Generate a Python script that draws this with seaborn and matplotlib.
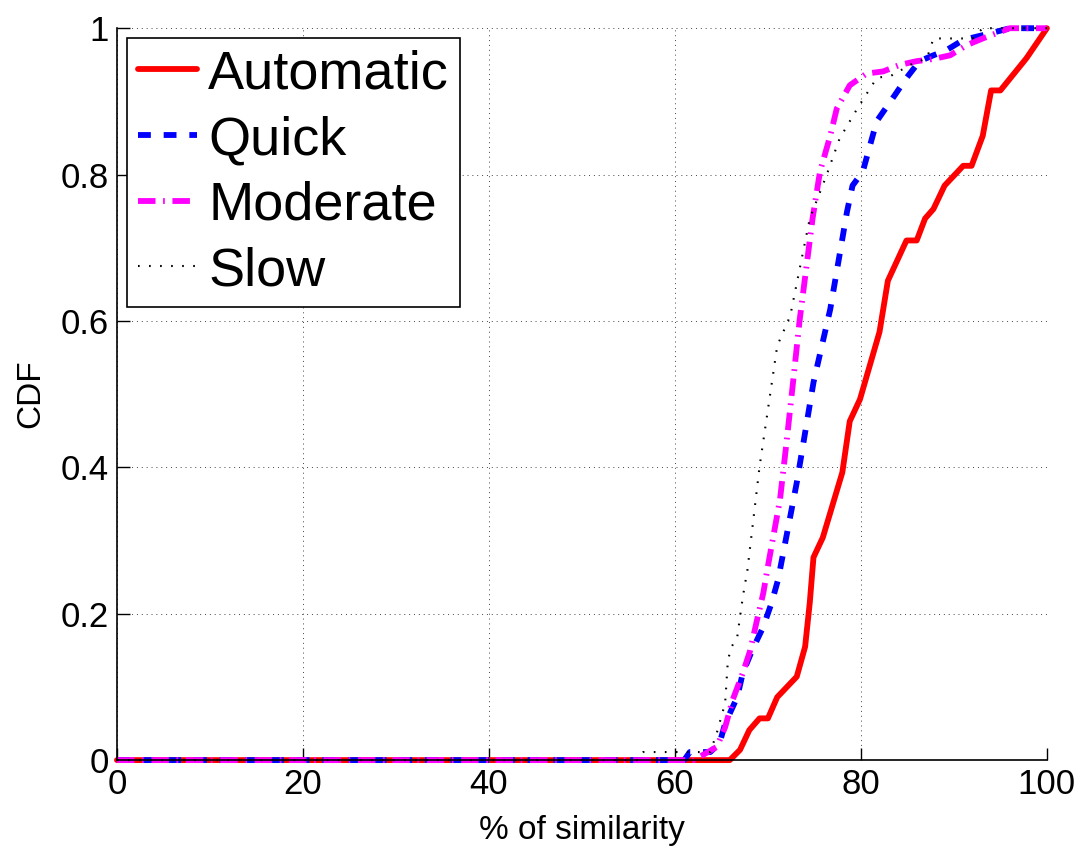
import matplotlib
matplotlib.use('Agg')
import matplotlib.pyplot as plt
import seaborn as sns

# CDF points (x = % of similarity, y = CDF)
auto_x = [0, 65.9, 67, 68, 69.1, 70, 71, 73.1, 74, 74.5, 74.9, 75.9, 78, 78.8, 79.9,
          82, 82.9, 84.9, 86, 86.9, 87.8, 89, 91, 91.9, 93.1, 94, 95, 97.8, 100]
auto_y = [0, 0, 0.014, 0.041, 0.057, 0.057, 0.086, 0.114, 0.155, 0.215, 0.277, 0.304,
          0.393, 0.463, 0.493, 0.585, 0.655, 0.71, 0.71, 0.74, 0.753, 0.785, 0.812,
          0.812, 0.853, 0.915, 0.915, 0.959, 1.0]

quick_x = [0, 61, 61.6, 63.8, 64.8, 65.4, 66.7, 67.3, 68.3, 69.5, 70.4, 71.1, 73.1,
           74.9, 76.7, 78.5, 79.1, 80.2, 81.7, 83.4, 84.9, 86.3, 87.8, 89.2, 91, 93.9,
           96, 100]
quick_y = [0, 0, 0.011, 0.011, 0.023, 0.05, 0.086, 0.119, 0.15, 0.182, 0.215, 0.247,
           0.379, 0.516, 0.616, 0.749, 0.785, 0.804, 0.873, 0.904, 0.932, 0.955, 0.963,
           0.97, 0.984, 0.993, 1.0, 1.0]

moderate_x = [0, 62, 63, 64.5, 65.4, 66.2, 67.3, 68.1, 68.8, 69.5, 70, 71.3, 72, 72.7,
              73.4, 74.8, 75.6, 76.7, 77.4, 78.8, 80.6, 82.4, 84.2, 86, 87.8, 89.6,
              91.4, 93.1, 96, 100]
moderate_y = [0, 0, 0.007, 0.018, 0.045, 0.082, 0.119, 0.15, 0.19, 0.228, 0.265, 0.356,
              0.434, 0.516, 0.6, 0.74, 0.804, 0.853, 0.89, 0.922, 0.938, 0.941, 0.95,
              0.955, 0.958, 0.963, 0.977, 0.986, 1.0, 1.0]

slow_x = [0, 56, 56.6, 63.8, 64.5, 65.4, 65.7, 66.1, 66.7, 67.3, 67.8, 69.1, 70, 71,
          72.4, 74.5, 76.3, 77.7, 79.6, 81.7, 83.4, 85.3, 87.1, 87.8, 92, 93.1, 100]
slow_y = [0, 0, 0.011, 0.011, 0.037, 0.078, 0.137, 0.155, 0.168, 0.223, 0.26, 0.401,
          0.479, 0.566, 0.607, 0.74, 0.799, 0.849, 0.89, 0.932, 0.936, 0.95, 0.959,
          0.986, 0.986, 1.0, 1.0]

x_ticks = [0, 20, 40, 60, 80, 100]
y_ticks = [0, 0.2, 0.4, 0.6, 0.8, 1]
y_tick_labels = ['0', '0.2', '0.4', '0.6', '0.8', '1']

sns.set_style('white')
plt.rcParams['font.family'] = ['Liberation Sans', 'DejaVu Sans']
plt.rcParams.update({'text.color': 'black', 'axes.labelcolor': 'black',
                     'xtick.color': 'black', 'ytick.color': 'black'})

fig = plt.figure(figsize=(10.86, 8.55), dpi=100)
ax = fig.add_axes([0.1077, 0.111, 0.8563, 0.856])

series = [
    (auto_x, auto_y, 'Automatic', 'red', '-', 4.2),
    (quick_x, quick_y, 'Quick', 'blue', (0, (2.2, 2.2)), 4.2),
    (moderate_x, moderate_y, 'Moderate', 'magenta', (0, (3.0, 1.3, 0.3, 1.3)), 4.2),
    (slow_x, slow_y, 'Slow', 'black', (0, (0.8, 4.5)), 1.5),
]
for xs, ys, name, col, ls, lw in series:
    sns.lineplot(x=xs, y=ys, ax=ax, color=col, linestyle=ls, linewidth=lw,
                 label=name, sort=False, estimator=None, clip_on=False)

ax.set_xlim(0, 100)
ax.set_ylim(0, 1)
ax.set_xticks(x_ticks)
ax.set_yticks(y_ticks)
ax.set_yticklabels(y_tick_labels)
ax.tick_params(direction='in', length=9, width=1, labelsize=25, color='black',
               labelcolor='black', bottom=True, left=True, pad=6)
ax.grid(True, color='#444444', linestyle=(0, (1, 4)), linewidth=0.7)

for side in ['top', 'right']:
    ax.spines[side].set_visible(False)
for side in ['left', 'bottom']:
    ax.spines[side].set_color('black')
    ax.spines[side].set_linewidth(1.2)

ax.set_xlabel('% of similarity', fontsize=24, labelpad=10)
ax.set_ylabel('CDF', fontsize=24, labelpad=10)

leg = ax.legend(loc='upper left', bbox_to_anchor=(0.0108, 0.986), fontsize=39,
                frameon=True, fancybox=False, borderaxespad=0, handlelength=1.1,
                handletextpad=0.2, labelspacing=0.29, borderpad=0.2)
leg.get_frame().set_edgecolor('black')
leg.get_frame().set_linewidth(1.2)
leg.get_frame().set_alpha(1)
for t in leg.get_texts():
    t.set_color('black')

fig.savefig('out.png', dpi=100)
